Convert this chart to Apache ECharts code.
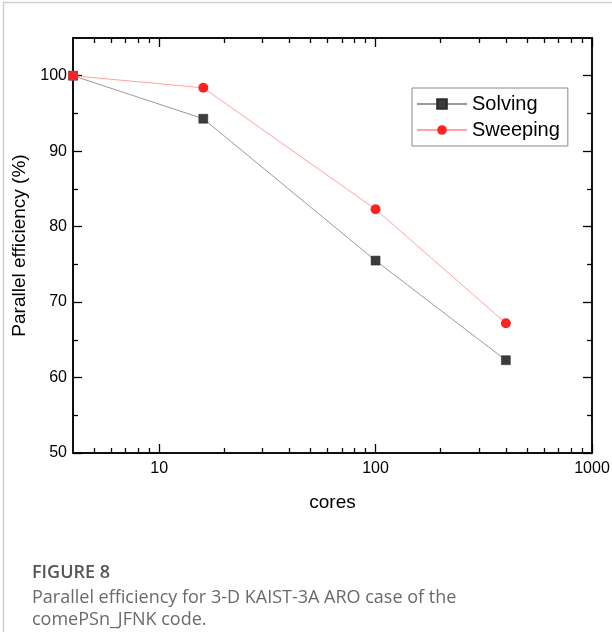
<!DOCTYPE html>
<html>
<head>
<meta charset="utf-8">
<script src="https://cdn.jsdelivr.net/npm/echarts@6/dist/echarts.min.js"></script>
<style>
html,body{margin:0;padding:0;background:#fff;}
#chart{width:612px;height:632px;}
</style>
</head>
<body>
<div id="chart"></div>
<script>
const cores = [4, 16, 100, 400];
const solving = [100, 94.3, 75.5, 62.3];
const sweeping = [100, 98.4, 82.3, 67.2];
const xMajorTicks = [10, 100, 1000];
const xMinorTicks = [5, 6, 7, 8, 9, 20, 30, 40, 50, 60, 70, 80, 90, 200, 300, 400, 500, 600, 700, 800, 900];
const yMajorTicks = [50, 60, 70, 80, 90, 100];
const yMinorTicks = [55, 65, 75, 85, 95];
const captionTitle = 'FIGURE 8';
const captionLines = ['Parallel efficiency for 3-D KAIST-3A ARO case of the', 'comePSn_JFNK code.'];

const FONT = 'Liberation Sans';
const chart = echarts.init(document.getElementById('chart'));

function xAx(grid, pos, ticks, len, showLabel, extra) {
  return Object.assign({
    gridIndex: grid,
    type: 'log', logBase: 10, min: 4, max: 1000, position: pos,
    axisLine: {show: true, onZero: false, lineStyle: {color: '#000', width: 1.5}},
    axisTick: {show: true, inside: true, length: len, customValues: ticks, lineStyle: {color: '#000', width: 1.3}},
    axisLabel: {show: showLabel, customValues: xMajorTicks, formatter: v => String(Math.round(v)), color: '#000', fontSize: 16, fontFamily: FONT, margin: 8},
    splitLine: {show: false}
  }, extra || {});
}
function yAx(grid, pos, ticks, len, showLabel, extra) {
  return Object.assign({
    gridIndex: grid,
    type: 'value', min: 50, max: 105, position: pos,
    axisLine: {show: true, onZero: false, lineStyle: {color: '#000', width: 1.5}},
    axisTick: {show: true, inside: true, length: len, customValues: ticks, lineStyle: {color: '#000', width: 1.3}},
    axisLabel: {show: showLabel, customValues: yMajorTicks, formatter: v => String(Math.round(v)), color: '#000', fontSize: 16, fontFamily: FONT, margin: 6},
    splitLine: {show: false}
  }, extra || {});
}

const gridRect = {left: 73, right: 20, top: 38, bottom: 179, outerBoundsMode: 'none', containLabel: false};

chart.setOption({
  animation: false,
  backgroundColor: '#fff',
  grid: [Object.assign({}, gridRect), Object.assign({}, gridRect)],
  xAxis: [
    xAx(0, 'bottom', xMajorTicks, 9, true, {name: 'cores', nameLocation: 'middle', nameGap: 40,
      nameTextStyle: {color: '#000', fontSize: 19, fontFamily: FONT}}),
    xAx(0, 'top', xMajorTicks, 9, false),
    xAx(1, 'bottom', xMinorTicks, 5, false),
    xAx(1, 'top', xMinorTicks, 5, false)
  ],
  yAxis: [
    yAx(0, 'left', yMajorTicks, 9, true, {name: 'Parallel efficiency (%)', nameLocation: 'middle', nameGap: 42,
      nameTextStyle: {color: '#000', fontSize: 19, fontFamily: FONT}}),
    yAx(0, 'right', yMajorTicks, 9, false),
    yAx(1, 'left', yMinorTicks, 5, false),
    yAx(1, 'right', yMinorTicks, 5, false)
  ],
  legend: {
    left: 412, top: 88, orient: 'vertical',
    itemWidth: 50, itemHeight: 12, itemGap: 6,
    padding: [6, 8, 6, 4],
    borderColor: '#888', borderWidth: 1,
    textStyle: {color: '#000', fontSize: 20, fontFamily: FONT},
    data: ['Solving', 'Sweeping']
  },
  series: [
    {
      name: 'Solving', type: 'line', xAxisIndex: 0, yAxisIndex: 0,
      data: cores.map((c, i) => [c, solving[i]]),
      symbol: 'rect', symbolSize: 9,
      lineStyle: {color: '#9a9a9a', width: 1},
      itemStyle: {color: '#3c3c3c', borderColor: '#2a2a2a', borderWidth: 0.5},
      z: 3
    },
    {
      name: 'Sweeping', type: 'line', xAxisIndex: 0, yAxisIndex: 0,
      data: cores.map((c, i) => [c, sweeping[i]]),
      symbol: 'circle', symbolSize: 10,
      lineStyle: {color: '#ffa3a3', width: 1},
      itemStyle: {color: '#ff2222'},
      z: 4
    }
  ],
  graphic: [
    {type: 'rect', shape: {x: 3.5, y: 2.5, width: 700, height: 700}, style: {fill: 'none', stroke: '#cfcfcf', lineWidth: 1.5}, silent: true},
    {type: 'text', left: 32, top: 564, style: {text: captionTitle, fill: '#555', font: '600 18px "Open Sans", sans-serif'}},
    {type: 'text', left: 32, top: 589, style: {text: captionLines[0], fill: '#6a6a6a', font: '18px "Open Sans", sans-serif'}},
    {type: 'text', left: 32, top: 611, style: {text: captionLines[1], fill: '#6a6a6a', font: '18px "Open Sans", sans-serif'}}
  ]
});
</script>
</body>
</html>
